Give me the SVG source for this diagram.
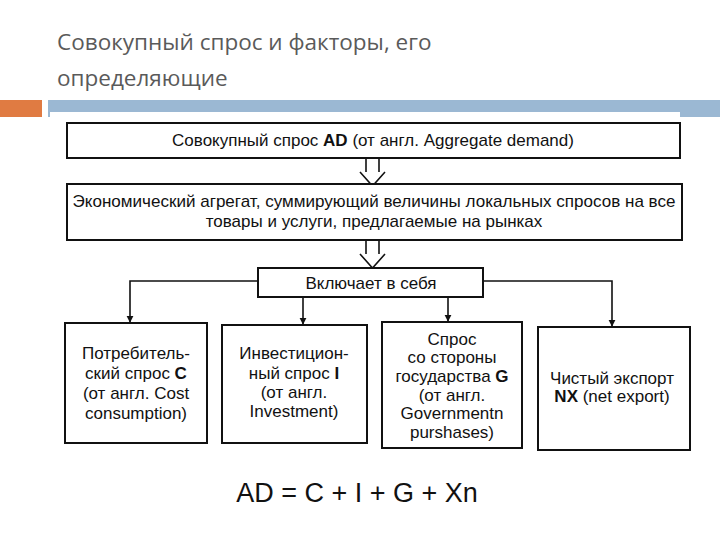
<svg xmlns="http://www.w3.org/2000/svg" width="720" height="540" viewBox="0 0 720 540">
<style>
.t{font-family:"Liberation Sans",Arial,sans-serif;font-size:17px;fill:#111;text-anchor:middle}
.b{fill:#fff;stroke:#111;stroke-width:2}
.l{fill:none;stroke:#111;stroke-width:1.6}
.h{font-family:"Open Sans","Liberation Sans",sans-serif;font-size:22.5px;fill:#5a5a5a}
</style>
<defs><marker id="a" viewBox="0 0 10 10" refX="9" refY="5" markerWidth="7" markerHeight="9" orient="auto" markerUnits="userSpaceOnUse"><path d="M0,0L10,5L0,10z" fill="#111"/></marker></defs>
<rect width="720" height="540" fill="#fff"/>
<text class="h" x="57" y="50">Совокупный спрос и факторы, его</text>
<text class="h" x="57" y="86">определяющие</text>
<rect x="0" y="100" width="42" height="17" fill="#e07b42"/>
<rect x="48" y="100" width="672" height="17" fill="#9bb8d3"/>
<rect x="50" y="112" width="630" height="6" fill="#fff"/>
<g id="connectors">
<path class="l" d="M366,158V172M379,158V172M360,172L372.5,186L385,172"/>
<path class="l" d="M366,240V254M379,240V254M360,254L372.5,268L385,254"/>
<path class="l" d="M258,281H130V322" marker-end="url(#a)"/>
<path class="l" d="M303,297V324" marker-end="url(#a)"/>
<path class="l" d="M448,297V321" marker-end="url(#a)"/>
<path class="l" d="M483,281H612V326" marker-end="url(#a)"/>
</g>
<g id="n1"><rect class="b" x="67" y="123" width="613" height="35"/><text class="t" x="373" y="146">Совокупный спрос <tspan font-weight="bold">AD</tspan> (от англ. Aggregate demand)</text></g>
<g id="n2"><rect class="b" x="67" y="184" width="615" height="56"/><text class="t" x="374" y="207" textLength="603" lengthAdjust="spacingAndGlyphs">Экономический агрегат, суммирующий величины локальных спросов на все</text><text class="t" x="374" y="227">товары и услуги, предлагаемые на рынках</text></g>
<g id="n3"><rect class="b" x="258" y="268" width="225" height="29"/><text class="t" x="371" y="289">Включает в себя</text></g>
<g id="n4"><rect class="b" x="65" y="323" width="142" height="120"/><text class="t" x="136" y="359">Потребитель-</text><text class="t" x="136" y="379">ский спрос <tspan font-weight="bold">C</tspan></text><text class="t" x="136" y="399">(от англ. Cost</text><text class="t" x="136" y="419">consumption)</text></g>
<g id="n5"><rect class="b" x="222" y="325" width="145" height="118"/><text class="t" x="294" y="359">Инвестицион-</text><text class="t" x="294" y="379">ный спрос <tspan font-weight="bold">I</tspan></text><text class="t" x="294" y="398">(от англ.</text><text class="t" x="294" y="417">Investment)</text></g>
<g id="n6"><rect class="b" x="382" y="322" width="140" height="126"/><text class="t" x="452" y="345">Спрос</text><text class="t" x="452" y="363">со стороны</text><text class="t" x="452" y="382">государства <tspan font-weight="bold">G</tspan></text><text class="t" x="452" y="401">(от англ.</text><text class="t" x="452" y="419">Governmentn</text><text class="t" x="452" y="438">purshases)</text></g>
<g id="n7"><rect class="b" x="538" y="327" width="152" height="123"/><text class="t" x="612" y="384">Чистый экспорт</text><text class="t" x="612" y="402"><tspan font-weight="bold">NX</tspan> (net export)</text></g>
<text x="357" y="502" font-family="Liberation Sans,Arial,sans-serif" font-size="27" fill="#111" text-anchor="middle">AD = C + I + G + Xn</text>
</svg>
